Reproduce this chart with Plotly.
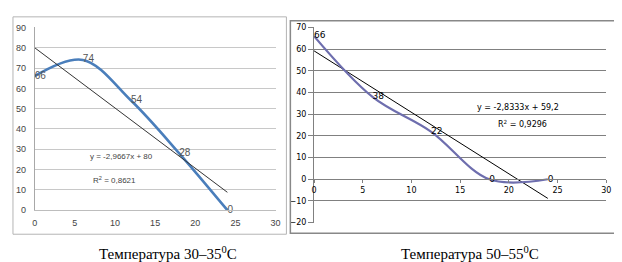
import numpy as np
import plotly.graph_objects as go

# ---- data ----
x_points = [0, 6, 12, 18, 24]
left_values = [66, 74, 54, 28, 0]
right_values = [66, 38, 22, 0, 0]
left_eq_text = "y = -2,9667x + 80"
left_r2_text = "R<sup>2</sup> = 0,8621"
right_eq_text = "y = -2,8333x + 59,2"
right_r2_text = "R<sup>2</sup> = 0,9296"
left_caption = "Температура 30–35<sup>0</sup>C"
right_caption = "Температура 50–55<sup>0</sup>C"
x_ticks = [0, 5, 10, 15, 20, 25, 30]
left_y_ticks = [0, 10, 20, 30, 40, 50, 60, 70, 80, 90]
right_y_ticks = [-20, -10, 0, 10, 20, 30, 40, 50, 60, 70]

W, H = 622, 262
def px(x):
    return x / W
def py(y):
    return (H - y) / H

fig = go.Figure()

# trend lines from least squares
xl = np.array([x_points[0], x_points[-1]], dtype=float)
lc = np.polyfit(x_points, left_values, 1)
rc = np.polyfit(x_points, right_values, 1)

# left chart
fig.add_trace(go.Scatter(x=x_points, y=left_values, mode="lines+text",
                         line=dict(color="#4A7EBB", width=2.6, shape="spline", smoothing=1),
                         text=[str(v) for v in left_values], textposition="middle right",
                         textfont=dict(family="Liberation Sans", size=10, color="#555555"),
                         xaxis="x", yaxis="y", showlegend=False, cliponaxis=False))
fig.add_trace(go.Scatter(x=xl, y=np.polyval(lc, xl), mode="lines",
                         line=dict(color="#333333", width=1),
                         xaxis="x", yaxis="y", showlegend=False))

# right chart
fig.add_trace(go.Scatter(x=xl, y=np.polyval(rc, xl), mode="lines",
                         line=dict(color="#000000", width=1),
                         xaxis="x2", yaxis="y2", showlegend=False))
fig.add_trace(go.Scatter(x=x_points, y=right_values, mode="lines+text",
                         line=dict(color="#6E6EAE", width=2.2, shape="spline", smoothing=1),
                         text=[str(v) for v in right_values], textposition="middle right",
                         textfont=dict(family="DejaVu Sans", size=9, color="#000000"),
                         xaxis="x2", yaxis="y2", showlegend=False, cliponaxis=False))

lx = [px(24), px(268)]
ly = [py(205), py(15)]
rx = [px(307), px(603)]
ry = [py(218), py(15)]
r_zero = ry[0] + (0 - (-20)) / 90 * (ry[1] - ry[0])

lfont = dict(family="Liberation Sans", size=9, color="#444444")
rfont = dict(family="DejaVu Sans", size=8, color="#000000")

fig.update_layout(
    width=W, height=H, margin=dict(l=0, r=0, t=0, b=0),
    paper_bgcolor="white", plot_bgcolor="white",
    xaxis=dict(domain=lx, range=[0, 30], tickvals=x_ticks, showgrid=False, zeroline=False,
               showline=True, linecolor="#bdbdbd", linewidth=1, ticks="", tickfont=lfont,
               ticklabelstandoff=4, anchor="y", fixedrange=True),
    yaxis=dict(domain=ly, range=[0, 90], tickvals=left_y_ticks, showgrid=True, gridcolor="#c8c8c8",
               gridwidth=1, zeroline=False, showline=True, linecolor="#a8a8a8", linewidth=1,
               ticks="", tickfont=lfont, ticklabelstandoff=6, anchor="x", fixedrange=True),
    xaxis2=dict(domain=rx, range=[0, 30], tickvals=x_ticks, showgrid=False, zeroline=False,
                showline=True, linecolor="#808080", linewidth=1, ticks="outside", ticklen=3,
                tickcolor="#808080", tickfont=rfont, anchor="free", position=r_zero,
                ticklabelstandoff=0, fixedrange=True),
    yaxis2=dict(domain=ry, range=[-20, 70], tickvals=right_y_ticks, showgrid=True, gridcolor="#808080",
                gridwidth=1, zeroline=False, showline=True, linecolor="#808080", linewidth=1,
                ticks="outside", ticklen=5, tickcolor="#808080", tickfont=rfont, anchor="x2",
                fixedrange=True),
    shapes=[
        dict(type="rect", xref="paper", yref="paper", x0=px(2), x1=px(279), y0=py(230), y1=py(4),
             line=dict(color="#b4b4b4", width=1)),
        dict(type="rect", xref="paper", yref="paper", x0=px(283), x1=px(615), y0=py(229), y1=py(8),
             line=dict(color="#888888", width=1.5)),
    ],
    annotations=[
        dict(text=left_eq_text, x=10.8, y=26.5, xref="x", yref="y", showarrow=False,
             font=dict(family="Liberation Sans", size=8, color="#444444")),
        dict(text=left_r2_text, x=10, y=15, xref="x", yref="y", showarrow=False,
             font=dict(family="Liberation Sans", size=8, color="#444444")),
        dict(text=right_eq_text, x=20.9, y=33, xref="x2", yref="y2", showarrow=False,
             font=dict(family="DejaVu Sans", size=8, color="#000000")),
        dict(text=right_r2_text, x=21.4, y=25.7, xref="x2", yref="y2", showarrow=False,
             font=dict(family="DejaVu Sans", size=8, color="#000000")),
        dict(text=left_caption, x=px(159), y=py(250), xref="paper", yref="paper", showarrow=False,
             xanchor="center", yanchor="middle",
             font=dict(family="Liberation Serif", size=15, color="#000000")),
        dict(text=right_caption, x=px(465), y=py(250), xref="paper", yref="paper", showarrow=False,
             xanchor="center", yanchor="middle",
             font=dict(family="Liberation Serif", size=15, color="#000000")),
    ],
)

fig.write_html("out.html")
